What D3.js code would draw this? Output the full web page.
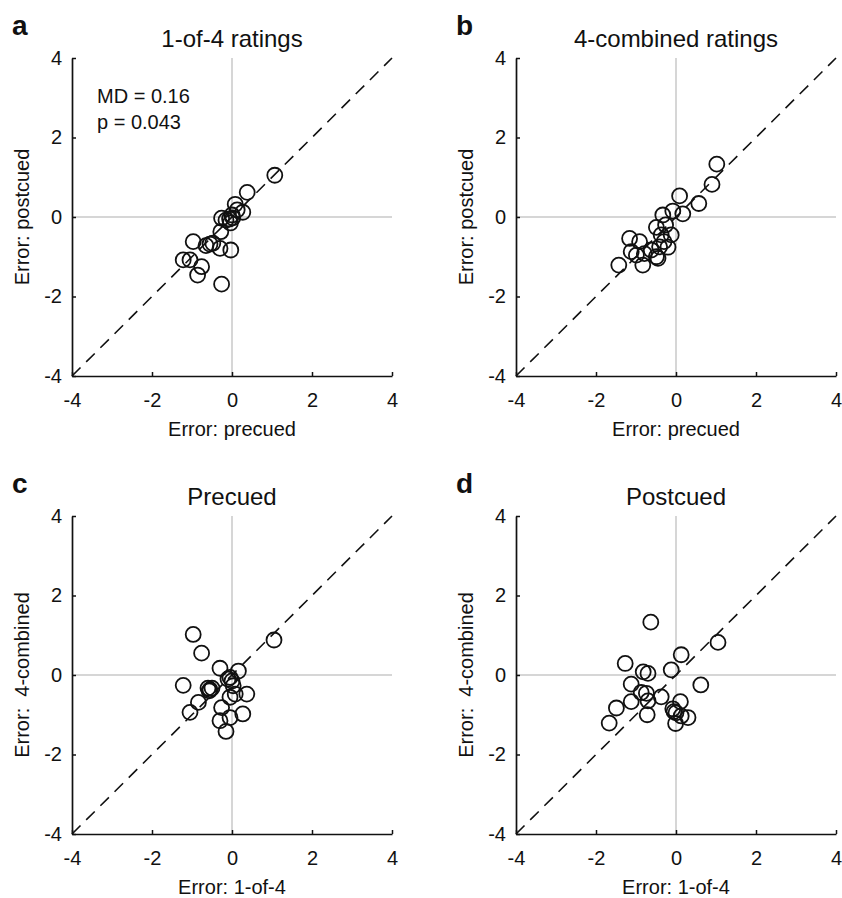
<!DOCTYPE html>
<html>
<head>
<meta charset="utf-8">
<script src="https://cdn.jsdelivr.net/npm/d3@7"></script>
<style>
  body { margin: 0; background: #fff; }
  text { font-family: "Liberation Sans", Arial, sans-serif; fill: #111; }
</style>
</head>
<body>
<div id="main"></div>
<script>
// panel a: x = precued, y = postcued (1-of-4 ratings)
var aPoints = [[1.07,1.05],[0.38,0.62],[0.08,0.32],[0.27,0.12],[0.13,0.18],[0.0,0.05],
  [-0.26,-0.03],[-0.15,-0.08],[-0.06,-0.05],[0.02,-0.02],[-0.04,-0.15],[-0.28,-0.37],
  [-0.97,-0.62],[-0.65,-0.72],[-0.55,-0.68],[-0.48,-0.66],[-0.3,-0.79],[-0.03,-0.83],
  [-1.22,-1.08],[-1.05,-1.08],[-0.76,-1.25],[-0.86,-1.46],[-0.26,-1.69]];
// panel b: x = precued, y = postcued (4-combined ratings)
var bPoints = [[1.02,1.33],[0.9,0.82],[0.57,0.34],[0.09,0.53],[0.17,0.08],[-0.08,0.15],
  [-0.33,0.05],[-0.49,-0.26],[-0.26,-0.2],[-0.12,-0.45],[-0.37,-0.45],[-0.3,-0.62],
  [-1.16,-0.54],[-0.91,-0.62],[-0.2,-0.76],[-0.41,-0.75],[-0.62,-0.83],[-1.12,-0.87],
  [-0.99,-0.96],[-0.79,-0.92],[-0.49,-1.0],[-0.45,-1.04],[-0.83,-1.21],[-1.43,-1.21]];
// panel c: x = 1-of-4, y = 4-combined (precued)
var cPoints = [[-0.97,1.02],[-0.76,0.55],[1.05,0.88],[-0.3,0.17],[0.16,0.1],[-0.05,-0.06],
  [0.0,-0.15],[-0.1,-0.1],[-1.22,-0.26],[-0.6,-0.33],[-0.55,-0.37],[-0.5,-0.33],[-0.57,-0.4],
  [0.03,-0.27],[0.08,-0.48],[0.37,-0.48],[-0.05,-0.56],[-0.84,-0.69],[-0.26,-0.82],
  [-1.05,-0.94],[0.27,-0.98],[-0.05,-1.07],[-0.3,-1.15],[-0.15,-1.42]];
// panel d: x = 1-of-4, y = 4-combined (postcued)
var dPoints = [[-0.63,1.33],[1.05,0.82],[0.13,0.51],[-1.27,0.29],[-0.82,0.08],[-0.7,0.04],
  [-0.12,0.13],[0.62,-0.25],[-1.12,-0.23],[-0.87,-0.44],[-0.74,-0.46],[-0.37,-0.55],
  [-0.7,-0.65],[-1.12,-0.67],[0.11,-0.67],[-1.49,-0.83],[-0.08,-0.85],[-0.05,-0.92],
  [0.0,-0.95],[0.3,-1.07],[-0.72,-1.0],[0.13,-1.03],[-0.01,-1.22],[-1.67,-1.21]];

var tickValues = [-4, -2, 0, 2, 4];
var panelLetters = ["a", "b", "c", "d"];
var panelTitles = ["1-of-4 ratings", "4-combined ratings", "Precued", "Postcued"];
var xLabels = ["Error: precued", "Error: precued", "Error: 1-of-4", "Error: 1-of-4"];
var yLabels = ["Error: postcued", "Error: postcued", "Error:  4-combined", "Error:  4-combined"];
var allPoints = [aPoints, bPoints, cPoints, dPoints];

var W = 842, H = 898, pw = 320, ph = 318;
var origins = [[72, 58], [516, 58], [72, 516], [516, 516]];

var svg = d3.select("#main").append("svg").attr("width", W).attr("height", H);

// plain hyphen for negatives, like the original figure
var fmt = function(d) { return String(d); };

allPoints.forEach(function(pts, i) {
    var g = svg.append("g").attr("transform", "translate(" + origins[i][0] + "," + origins[i][1] + ")");
    var x = d3.scaleLinear().domain([-4, 4]).range([0, pw]);
    var y = d3.scaleLinear().domain([-4, 4]).range([ph, 0]);

    // zero lines
    g.append("line").attr("x1", x(0)).attr("x2", x(0)).attr("y1", y(4)).attr("y2", y(-4))
        .attr("stroke", "#c8c8c8").attr("stroke-width", 1.5);
    g.append("line").attr("x1", x(-4)).attr("x2", x(4)).attr("y1", y(0)).attr("y2", y(0))
        .attr("stroke", "#c8c8c8").attr("stroke-width", 1.5);

    // identity line
    g.append("line").attr("x1", x(-4)).attr("y1", y(-4)).attr("x2", x(4)).attr("y2", y(4))
        .attr("stroke", "#111").attr("stroke-width", 1.6).attr("stroke-dasharray", "12,8");

    var xa = g.append("g").attr("transform", "translate(0," + ph + ")")
        .call(d3.axisBottom(x).tickValues(tickValues).tickFormat(fmt)
            .tickSizeInner(-4).tickSizeOuter(0).tickPadding(17));
    var ya = g.append("g")
        .call(d3.axisLeft(y).tickValues(tickValues).tickFormat(fmt)
            .tickSizeInner(-4).tickSizeOuter(0).tickPadding(10));
    [xa, ya].forEach(function(a) {
        a.select(".domain").attr("stroke", "#111").attr("stroke-width", 1.7);
        a.selectAll(".tick line").attr("stroke", "#111").attr("stroke-width", 1.5);
        a.selectAll(".tick text").attr("font-size", 20).attr("fill", "#111")
            .attr("font-family", "Liberation Sans, Arial, sans-serif");
    });

    g.selectAll("circle.pt").data(pts).enter().append("circle")
        .attr("class", "pt")
        .attr("cx", function(d) { return x(d[0]); })
        .attr("cy", function(d) { return y(d[1]); })
        .attr("r", 7.5).attr("fill", "none").attr("stroke", "#111").attr("stroke-width", 1.8);

    g.append("text").attr("x", pw / 2).attr("y", -11).attr("text-anchor", "middle")
        .attr("font-size", 24).text(panelTitles[i]);
    g.append("text").attr("x", pw / 2).attr("y", ph + 60).attr("text-anchor", "middle")
        .attr("font-size", 20).text(xLabels[i]);
    g.append("text").attr("transform", "translate(-43," + (ph / 2) + ") rotate(-90)")
        .attr("text-anchor", "middle").attr("font-size", 20)
        .style("white-space", "pre").text(yLabels[i]);
    g.append("text").attr("x", -60).attr("y", -23).attr("font-size", 28)
        .attr("font-weight", "bold").text(panelLetters[i]);

    if (i === 0) {
        g.append("text").attr("x", 25).attr("y", 45).attr("font-size", 20).text("MD = 0.16");
        g.append("text").attr("x", 25).attr("y", 71).attr("font-size", 20).text("p = 0.043");
    }
});
</script>
</body>
</html>
